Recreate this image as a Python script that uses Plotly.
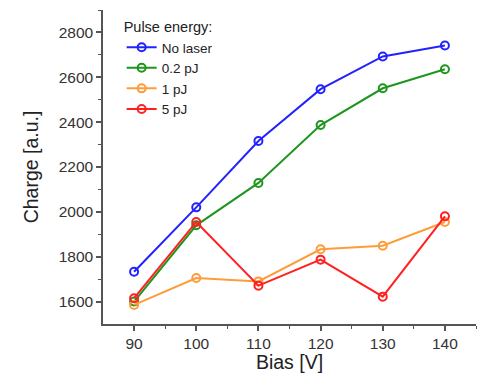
import plotly.graph_objects as go

bias = [90, 100, 110, 120, 130, 140]
no_laser = [1733, 2020, 2316, 2547, 2693, 2742]
pj_02 = [1600, 1940, 2129, 2387, 2551, 2636]
pj_1 = [1585, 1705, 1690, 1833, 1849, 1955]
pj_5 = [1615, 1955, 1671, 1787, 1622, 1980]

series = [
    ("No laser", no_laser, "#2222ff"),
    ("0.2 pJ", pj_02, "#1e961e"),
    ("1 pJ", pj_1, "#ff9c3a"),
    ("5 pJ", pj_5, "#ff2020"),
]

fig = go.Figure()
for name, vals, col in series:
    fig.add_trace(go.Scatter(
        x=bias, y=vals, name=name, mode="lines+markers",
        line=dict(color=col, width=2),
        marker=dict(symbol="circle-open", size=8, color=col, line=dict(width=2, color=col)),
    ))

font = "Liberation Sans, Arial, sans-serif"
fig.update_layout(
    width=485, height=373,
    margin=dict(l=103, r=9, t=10, b=49),
    paper_bgcolor="white", plot_bgcolor="white",
    font=dict(family=font, size=15, color="#333"),
    showlegend=True,
    legend=dict(
        title=dict(text="Pulse energy:", font=dict(size=14.5, color="#222")),
        x=0.05, y=0.99, xanchor="left", yanchor="top",
        bgcolor="rgba(0,0,0,0)", font=dict(size=13.5, color="#222"),
        tracegroupgap=0, itemwidth=30,
    ),
    xaxis=dict(
        range=[85, 145], tickvals=[90, 100, 110, 120, 130, 140], automargin=False,
        showgrid=False, zeroline=False, showline=True, linecolor="#555", linewidth=1.5,
        ticks="outside", ticklen=5, tickwidth=1.5, tickcolor="#555",
        minor=dict(tickvals=[95, 105, 115, 125, 135, 145], ticks="outside", ticklen=3, tickwidth=1.2, tickcolor="#555"),
        title=dict(text="Bias [V]", font=dict(size=19.5, color="#222")),
        tickfont=dict(size=15.5, color="#333"),
    ),
    yaxis=dict(
        range=[1500, 2900], tickvals=[1600, 1800, 2000, 2200, 2400, 2600, 2800], automargin=False,
        showgrid=False, zeroline=False, showline=True, linecolor="#555", linewidth=1.5,
        ticks="outside", ticklen=5, tickwidth=1.5, tickcolor="#555",
        minor=dict(tickvals=[1700, 1900, 2100, 2300, 2500, 2700, 2900], ticks="outside", ticklen=3, tickwidth=1.2, tickcolor="#555"),
        title=dict(text="Charge [a.u.]", font=dict(size=19.5, color="#222")),
        tickfont=dict(size=15.5, color="#333"),
    ),
)

fig.write_html("out.html")
